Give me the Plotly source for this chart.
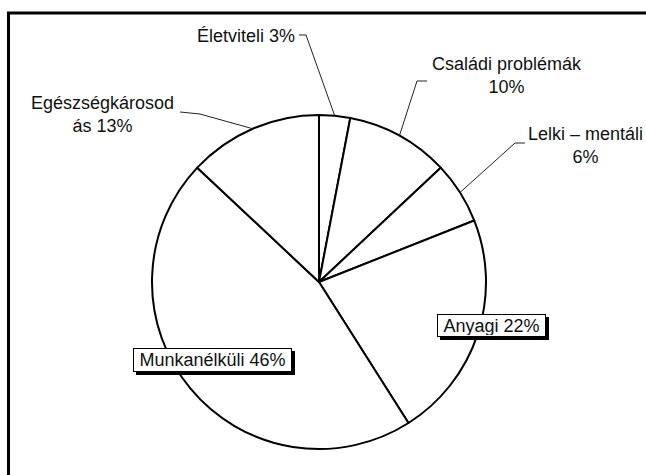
import math
import plotly.graph_objects as go

# ---- data ----
labels = ["Életviteli", "Családi problémák", "Lelki – mentáli", "Anyagi", "Munkanélküli", "Egészségkárosodás"]
values = [3, 10, 6, 22, 46, 13]
label_texts = ["Életviteli 3%", "Családi problémák<br>10%", "Lelki – mentáli<br>6%",
               "Anyagi 22%", "Munkanélküli 46%", "Egészségkárosod<br>ás 13%"]

W, H = 646, 475
CX, CY, R = 319, 282, 167  # pie centre / radius in px (layout)

def px(x, y):
    return x / W, 1 - y / H

FONT = dict(family="Liberation Sans, Arial, sans-serif", size=18, color="#111111")

fig = go.Figure(go.Pie(
    labels=labels, values=values, sort=False, direction="clockwise", rotation=0,
    textinfo="none", hoverinfo="label+percent",
    marker=dict(colors=["white"] * len(values), line=dict(color="black", width=2)),
    domain=dict(x=[(CX - R) / W, (CX + R) / W], y=[(H - CY - R) / H, (H - CY + R) / H]),
    showlegend=False,
))

# edge points at slice middles, from the data
total = sum(values)
edge = []
cum = 0
for v in values:
    mid = (cum + v / 2) / total * 2 * math.pi
    edge.append((CX + R * math.sin(mid), CY - R * math.cos(mid)))
    cum += v

shapes = []
# frame (left + top)
shapes.append(dict(type="path", xref="paper", yref="paper",
                   path="M %f %f L %f %f L %f %f" % (*px(8.5, H + 5), *px(8.5, 13), *px(W + 5, 13)),
                   line=dict(color="black", width=3)))

def leader(p1, p2, e):
    a, b, c = px(*p1), px(*p2), px(*e)
    return dict(type="path", xref="paper", yref="paper",
                path="M %f %f L %f %f L %f %f" % (*a, *b, *c),
                line=dict(color="#222222", width=1))

shapes.append(leader((299, 35), (306, 35), edge[0]))
shapes.append(leader((427, 81), (417, 81), edge[1]))
shapes.append(leader((525, 143), (515, 143), edge[2]))
shapes.append(leader((180, 112), (200, 114), edge[5]))

annotations = []
def text_ann(i, x, y, xanchor="center"):
    xp, yp = px(x, y)
    annotations.append(dict(x=xp, y=yp, xref="paper", yref="paper", text=label_texts[i],
                            showarrow=False, xanchor=xanchor, yanchor="middle", align="center", font=FONT))

text_ann(0, 297, 36, "right")
text_ann(1, 507, 75)
text_ann(2, 585, 145)
text_ann(5, 102, 114)

def box_ann(i, x, y, w, h):
    ow, oh = w + 4, h + 4
    x0, y0 = px(x - ow / 2 + 3, y + oh / 2 + 3)
    x1, y1 = px(x + ow / 2 + 3, y - oh / 2 + 3)
    shapes.append(dict(type="rect", xref="paper", yref="paper", x0=x0, y0=y0, x1=x1, y1=y1,
                       fillcolor="black", line=dict(width=0), layer="above"))
    xp, yp = px(x, y)
    annotations.append(dict(x=xp, y=yp, xref="paper", yref="paper", text=label_texts[i], showarrow=False,
                            xanchor="center", yanchor="middle", align="center", width=w, height=h,
                            borderpad=1, borderwidth=1, bgcolor="white", bordercolor="black", font=FONT))

box_ann(3, 491.5, 325.5, 105, 19)
box_ann(4, 212.5, 360, 155, 20)

fig.update_layout(width=W, height=H, margin=dict(l=0, r=0, t=0, b=0),
                  paper_bgcolor="white", plot_bgcolor="white",
                  shapes=shapes, annotations=annotations)

fig.write_html("out.html", config={"displayModeBar": False},
               post_script="document.body.style.margin='0';document.body.style.overflow='hidden';")
